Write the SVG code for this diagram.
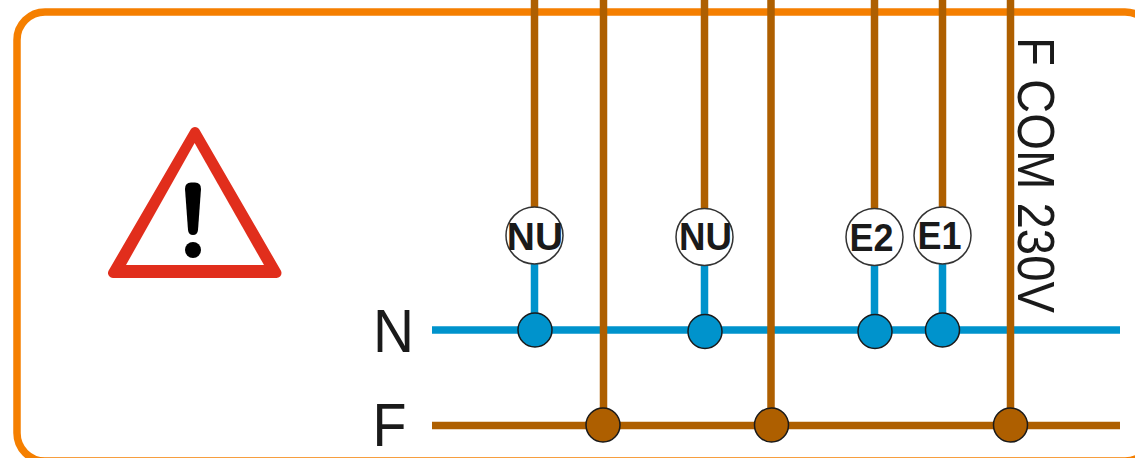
<svg xmlns="http://www.w3.org/2000/svg" width="1135" height="458" viewBox="0 0 1135 458">
<style>
.wb{stroke:#ae5f00;stroke-width:7.5;fill:none}
.wn{stroke:#0093cc;stroke-width:7.5;fill:none}
.jn{fill:#0093cc;stroke:#1a1a1a;stroke-width:1.5}
.jf{fill:#ae5f00;stroke:#1a1a1a;stroke-width:1.5}
.tag{fill:#fff;stroke:#333;stroke-width:1.5}
.tt{font-family:"Liberation Sans",Arial,sans-serif;font-weight:700;font-size:39px;fill:#1a1a1a;text-anchor:middle}
.lb{font-family:"Liberation Sans",Arial,sans-serif;font-size:62px;fill:#1a1a1a}
</style>
<rect id="frame" x="17" y="12" width="1136" height="449" rx="28" ry="28" fill="#fff" stroke="#f57f00" stroke-width="7.5"/>
<g id="warning">
<polygon points="195,132 113,273 276.500,273" fill="#e12e1c" stroke="#e12e1c" stroke-width="10" stroke-linejoin="round"/>
<polygon points="194.600,143 264,265 126,265" fill="#fff"/>
<path d="M185,189 Q185,182.500 191,182.500 L195,182.500 Q201,182.500 201,189 L198,230 Q197.500,235 193,235 Q188.500,235 188,230 Z" fill="#000"/>
<circle cx="193" cy="250" r="8" fill="#000"/>
</g>
<g id="connectors">
<path class="wb" d="M534.500,0V210M704.500,0V210M874.500,0V210M942.500,0V210"/>
<path class="wn" d="M534.500,260V330M704.500,260V331M874.500,260V331M942.500,260V330"/>
<path class="wn" d="M432,330H1120"/>
<path class="wb" d="M432,425.500H1120"/>
<path class="wb" d="M603.500,0V425M771,0V425M1010.500,0V425"/>
</g>
<g id="nu1"><circle class="tag" cx="534.500" cy="235.500" r="28.500"/><text class="tt" x="535" y="250">NU</text></g>
<g id="nu2"><circle class="tag" cx="704.500" cy="237" r="28.500"/><text class="tt" x="705.500" y="250" textLength="53" lengthAdjust="spacingAndGlyphs">NU</text></g>
<g id="e2"><circle class="tag" cx="874.500" cy="237" r="28.500"/><text class="tt" x="871.500" y="251" textLength="44" lengthAdjust="spacingAndGlyphs">E2</text></g>
<g id="e1"><circle class="tag" cx="942.500" cy="235.500" r="28.500"/><text class="tt" x="939.500" y="249" textLength="44" lengthAdjust="spacingAndGlyphs">E1</text></g>
<g id="j1"><circle class="jn" cx="535" cy="330" r="17"/></g>
<g id="j2"><circle class="jn" cx="705" cy="331.500" r="17"/></g>
<g id="j3"><circle class="jn" cx="875" cy="331.500" r="17"/></g>
<g id="j4"><circle class="jn" cx="942.500" cy="330" r="17"/></g>
<g id="j5"><circle class="jf" cx="603" cy="425" r="17"/></g>
<g id="j6"><circle class="jf" cx="771.500" cy="425" r="17"/></g>
<g id="j7"><circle class="jf" cx="1010.500" cy="425" r="17"/></g>
<g id="label-n"><text class="lb" x="373" y="352" textLength="41" lengthAdjust="spacingAndGlyphs">N</text></g>
<g id="label-f"><text class="lb" x="372.500" y="446" textLength="34" lengthAdjust="spacingAndGlyphs">F</text></g>
<g id="label-com"><text font-family="'Liberation Sans',Arial,sans-serif" font-size="51px" fill="#1a1a1a" transform="translate(1018,37) rotate(90)" textLength="276" lengthAdjust="spacingAndGlyphs">F COM 230V</text></g>
</svg>
